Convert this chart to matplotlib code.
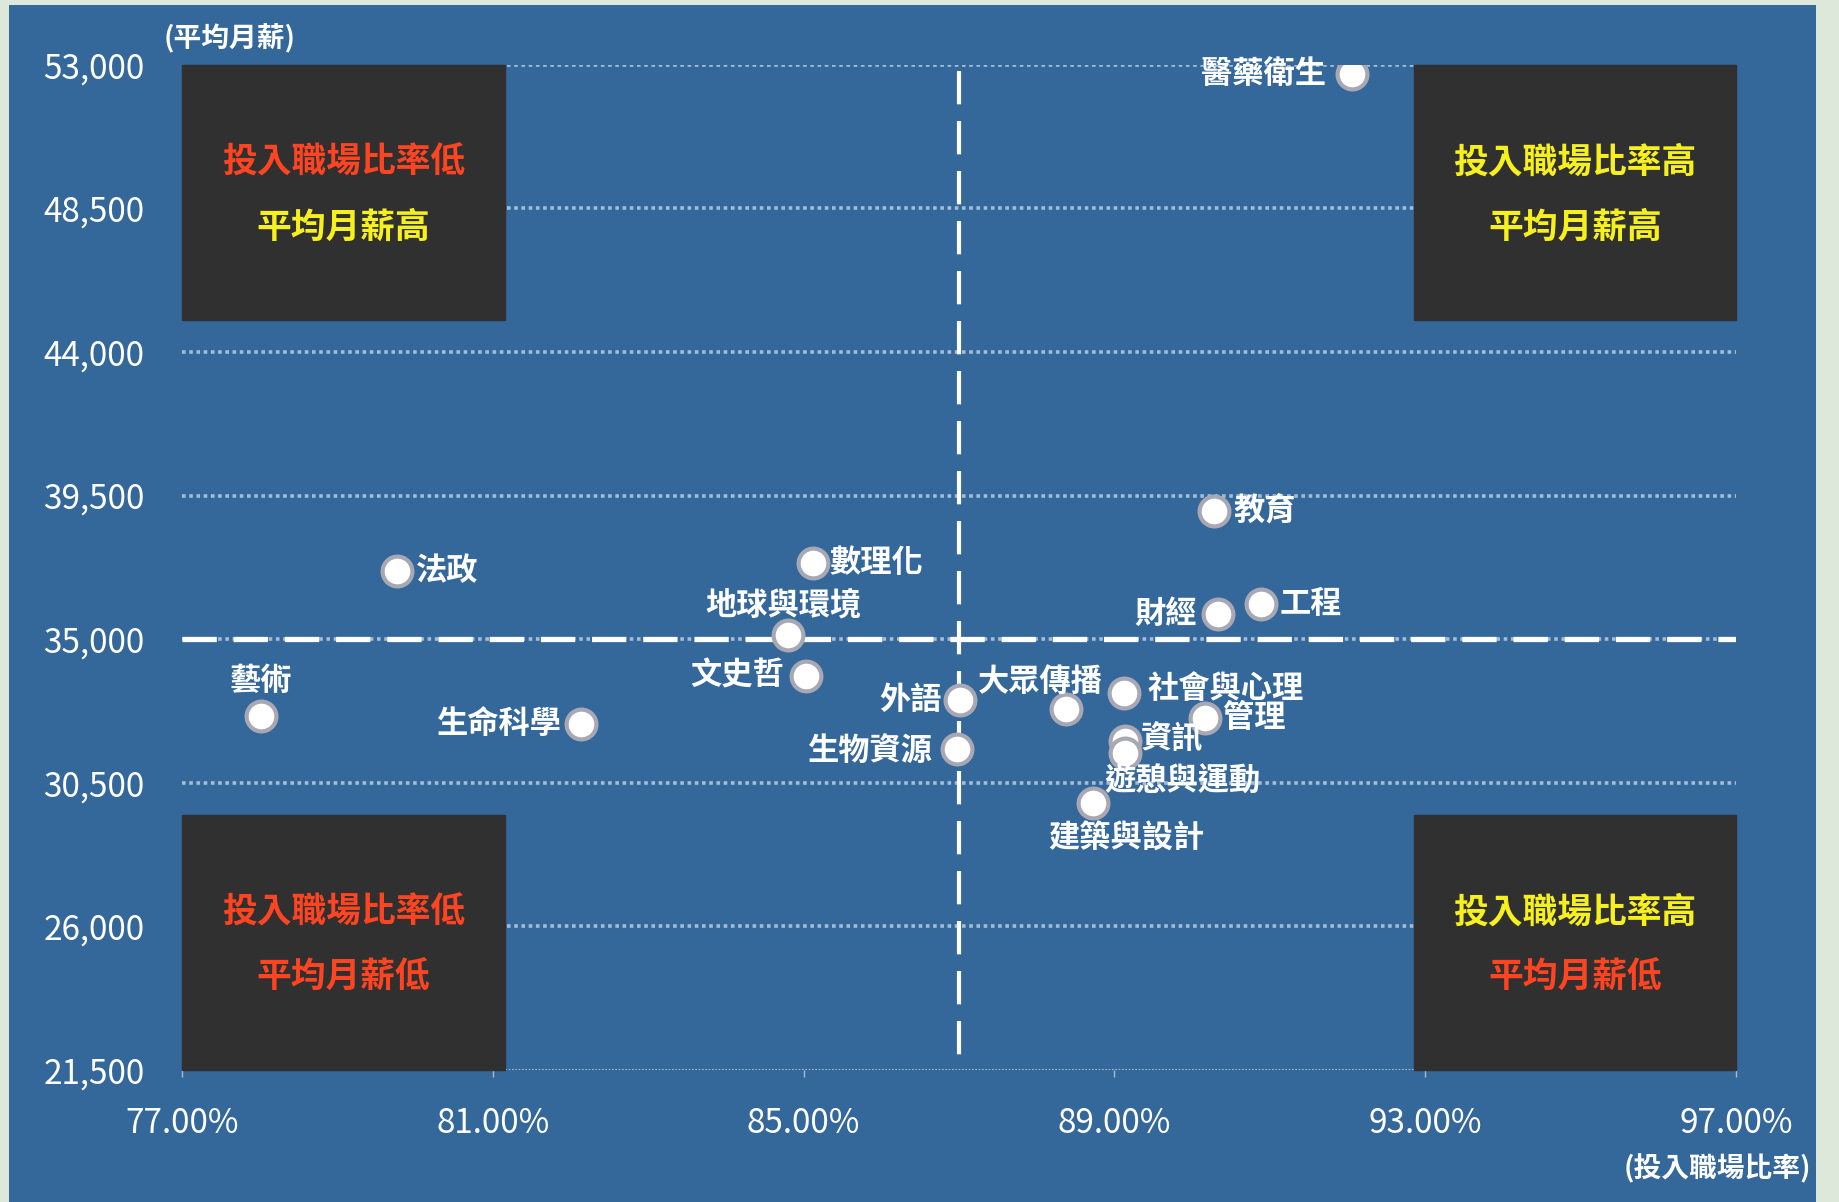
import matplotlib.pyplot as plt
from matplotlib.patches import Rectangle

plt.rcParams['font.family'] = ['Noto Sans CJK TC', 'DejaVu Sans']

# 學群: 投入職場比率 (%) / 平均月薪
fields = ['醫藥衛生', '教育', '數理化', '法政', '工程', '財經', '地球與環境', '文史哲',
          '外語', '大眾傳播', '社會與心理', '管理', '藝術', '生命科學', '資訊',
          '遊憩與運動', '生物資源', '建築與設計']
work_rate = [92.06, 90.28, 85.12, 79.76, 90.89, 90.33, 84.80, 85.03,
             87.01, 88.38, 89.12, 90.16, 78.01, 82.13, 89.14,
             89.14, 86.98, 88.73]
salary = [52700, 39030, 37380, 37120, 36090, 35800, 35140, 33850,
          33080, 32820, 33300, 32530, 32600, 32350, 31800,
          31430, 31570, 29850]

# label offsets (points) and alignment
label_pos = {
    '醫藥衛生': (-19, 0, 'right'), '教育': (14, 0, 'left'), '數理化': (12, 0, 'left'),
    '法政': (14, 0, 'left'), '工程': (13, 0, 'left'), '財經': (-15, 0, 'right'),
    '地球與環境': (-3, 21, 'center'), '文史哲': (-16, 0, 'right'), '外語': (-13, 0, 'right'),
    '大眾傳播': (-19, 19, 'center'), '社會與心理': (17, 3, 'left'), '管理': (13, 0, 'left'),
    '藝術': (0, 25, 'center'), '生命科學': (-14, 0, 'right'), '資訊': (11, 1, 'left'),
    '遊憩與運動': (41, -21, 'center'), '生物資源': (-18, -2, 'right'),
    '建築與設計': (24, -25, 'center'),
}

x_mean = 87.0
y_mean = 35000
y_ticks = [21500, 26000, 30500, 35000, 39500, 44000, 48500, 53000]
x_ticks = [77, 81, 85, 89, 93, 97]

blue = '#34679a'
box_c = '#303030'
red = '#ff4422'
yellow = '#f5f01e'
grid_c = '#a3bdd8'

fig = plt.figure(figsize=(18.39, 12.02), dpi=100)
fig.patch.set_facecolor('#dde7da')
bg = fig.add_axes([9 / 1839, 0, 1807 / 1839, 1197 / 1202], zorder=-5)
bg.set_facecolor(blue)
bg.set_xticks([])
bg.set_yticks([])
for sp in bg.spines.values():
    sp.set_visible(False)

ax = fig.add_axes([0.099, 0.110, 0.845, 0.836])
ax.set_facecolor('none')
ax.set_xlim(77, 97)
ax.set_ylim(21500, 53000)

# dotted grid
for yv in y_ticks[1:]:
    ax.plot([77, 97], [yv, yv], color=grid_c, lw=2.6, ls=(0, (1, 1.0)),
            solid_capstyle='butt', dash_capstyle='butt', zorder=1)
ax.plot([77, 97], [21500, 21500], color=grid_c, lw=1.5, ls=(0, (0.8, 0.8)), zorder=1)

# quadrant boxes
quad_text = [
    (77, 45000, '投入職場比率低', red, '平均月薪高', yellow),
    (92.85, 45000, '投入職場比率高', yellow, '平均月薪高', yellow),
    (77, 21500, '投入職場比率低', red, '平均月薪低', red),
    (92.85, 21500, '投入職場比率高', yellow, '平均月薪低', red),
]
for bx, by, t1, c1, t2, c2 in quad_text:
    ax.add_patch(Rectangle((bx, by), 4.15, 8000, color=box_c, zorder=2, clip_on=False))
    cx = bx + 2.075
    ax.text(cx, by + 4950, t1, color=c1, fontsize=25, fontweight='bold',
            ha='center', va='center', zorder=3)
    ax.text(cx, by + 2900, t2, color=c2, fontsize=25, fontweight='bold',
            ha='center', va='center', zorder=3)

# mean lines
ax.plot([77, 97], [y_mean, y_mean], color='white', lw=3.8, ls=(0, (6.5, 3.2)),
        dash_capstyle='butt', zorder=4)
ax.plot([x_mean, x_mean], [52800, 21500], color='white', lw=3, ls=(0, (8, 4)),
        dash_capstyle='butt', zorder=4)

# points
ax.scatter(work_rate, salary, s=460, color='white', edgecolor='#a8a8b4',
           linewidth=3, zorder=5)
for name, xv, yv in zip(fields, work_rate, salary):
    dx, dy, ha = label_pos[name]
    ax.annotate(name, (xv, yv), xytext=(dx, dy), textcoords='offset points',
                ha=ha, va='center', color='white', fontsize=22.5, fontweight='bold',
                zorder=6)

ax.set_xticks(x_ticks)
ax.set_xticklabels([f'{v:.2f}%' for v in x_ticks])
ax.set_yticks(y_ticks)
ax.set_yticklabels([f'{v:,}' for v in y_ticks])
ax.tick_params(axis='x', colors=grid_c, length=5, width=1, pad=21, labelcolor='white',
               labelsize=24)
ax.tick_params(axis='y', length=0, pad=27, labelcolor='white', labelsize=24)
for sp in ax.spines.values():
    sp.set_visible(False)

fig.text(0.089, 0.969, '(平均月薪)', color='white', fontsize=20, fontweight='bold',
         ha='left', va='center')
fig.text(0.985, 0.028, '(投入職場比率)', color='white', fontsize=20, fontweight='bold',
         ha='right', va='center')

fig.savefig('out.png', dpi=100, facecolor=fig.get_facecolor())
